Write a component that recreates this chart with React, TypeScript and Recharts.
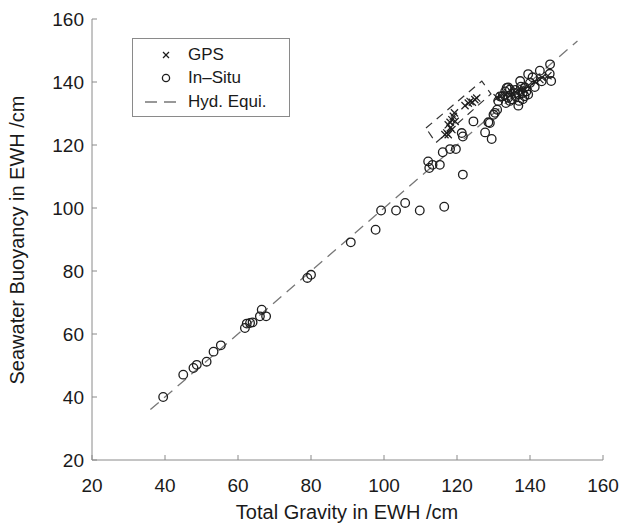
import React from 'react';
import { ScatterChart, Scatter, XAxis, YAxis } from 'recharts';

const FONT = '"Liberation Sans", Arial, Helvetica, sans-serif';
const AXIS_COLOR = '#8a8a8a';
const TEXT_COLOR = '#1a1a1a';

const xTicks = [20, 40, 60, 80, 100, 120, 140, 160];
const yTicks = [20, 40, 60, 80, 100, 120, 140, 160];

const insituX = [
  39.5, 45, 47.8, 48.7, 51.4, 53.3, 55.3, 61.9, 62.4, 63.3, 64.0, 66.5, 66.0, 67.7,
  79, 80, 90.9, 97.7, 99.2, 103.3, 105.8, 109.8, 116.5, 121.6, 112.1, 112.4, 113.3,
  115.3, 116.1, 118.1, 119.7, 121.3, 121.6, 124.5, 127.7, 128.6, 129.5, 130.4, 131,
  131.8, 133.6, 133.4, 136.8, 137.3, 139.5, 140, 141.3, 142.7, 145.5, 145.4, 145.8,
  134.5, 135.9, 140.7, 143.2, 138.6, 134, 133.2, 130, 129, 131.3, 132.5, 134, 135,
  136, 137, 138, 138.5, 139, 137.5, 136, 134.5, 138, 137, 139.5,
];
const insituY = [
  40, 47.1, 49.2, 50.2, 51.2, 54.4, 56.4, 61.9, 63.3, 63.5, 63.7, 67.7, 65.6, 65.6,
  77.8, 78.8, 89.1, 93.1, 99.2, 99.2, 101.6, 99.2, 100.4, 110.6, 114.8, 112.7, 113.7,
  113.7, 117.7, 118.7, 118.7, 123.8, 122.7, 127.5, 124, 127.2, 121.9, 130.2, 131.2,
  135.4, 138.1, 133.3, 132.5, 140.3, 142.5, 139.7, 138.4, 143.6, 145.6, 142.6, 140.3,
  137.6, 136.5, 141.5, 140.2, 138.3, 138.3, 137, 129.6, 127, 134, 135.5, 135, 134.5,
  135.5, 136, 136.5, 135.5, 137, 138.5, 137.5, 134, 134.5, 134, 136,
];

const gpsX = [
  122.2, 123.1, 123.6, 124.9, 125.4, 124.2,
  119.3, 119, 118.6, 118.1, 119.5, 117.6, 117.2, 117.6, 116.7, 118.6, 118.2,
  131, 133.2, 135.1, 137.3, 139.5, 141.4, 143.3, 144.9, 142.7, 136, 138.5, 132,
];
const gpsY = [
  132.5, 133.3, 133.8, 134.4, 134.9, 133.6,
  130.2, 129.1, 128, 127.2, 127.5, 126.4, 123.8, 123.3, 123.3, 124.9, 125.5,
  135, 136, 136.6, 137.6, 138.8, 140.1, 141.4, 142, 140.8, 136.8, 137.5, 135.5,
];

const equiX = [36, 153];
const equiY = [36, 153];

const boxX = [111.5, 126.8, 129.3, 114.2, 111.5];
const boxY = [125.4, 140.3, 136.2, 120.7, 125.4];

const legendLabels = ['GPS', 'In–Situ', 'Hyd. Equi.'];

const zip = (xs: number[], ys: number[]) => xs.map((x, i) => ({ x, y: ys[i] }));

const insituData = zip(insituX, insituY);
const gpsData = zip(gpsX, gpsY);
const equiData = zip(equiX, equiY);
const boxData = zip(boxX, boxY);

const Circle = (p: any) => (
  <circle cx={p.cx} cy={p.cy} r={4.3} fill="none" stroke="#1e1e1e" strokeWidth={1.3} />
);
const Cross = (p: any) => {
  const s = 3.6;
  return (
    <g stroke="#1e1e1e" strokeWidth={1.2}>
      <line x1={p.cx - s} y1={p.cy - s} x2={p.cx + s} y2={p.cy + s} />
      <line x1={p.cx - s} y1={p.cy + s} x2={p.cx + s} y2={p.cy - s} />
    </g>
  );
};
const Nothing = () => <g />;

const XTick = (p: any) => (
  <g>
    <line x1={p.x} x2={p.x} y1={p.y} y2={p.y - 5} stroke={AXIS_COLOR} />
    <text x={p.x} y={p.y + 32} textAnchor="middle" fontSize={19} fill={TEXT_COLOR} fontFamily={FONT}>
      {p.payload.value}
    </text>
  </g>
);
const YTick = (p: any) => (
  <g>
    <line x1={p.x} x2={p.x + 5} y1={p.y} y2={p.y} stroke={AXIS_COLOR} />
    <text x={p.x - 8} y={p.y + 7} textAnchor="end" fontSize={19} fill={TEXT_COLOR} fontFamily={FONT}>
      {p.payload.value}
    </text>
  </g>
);

const LegendBox = () => {
  const row = (top: number, icon: React.ReactNode, label: string) => (
    <div style={{ position: 'absolute', left: 0, top, height: 22, width: '100%' }}>
      <svg width={50} height={22} style={{ position: 'absolute', left: 0, top: 0 }}>
        {icon}
      </svg>
      <span style={{ position: 'absolute', left: 55, top: 1, lineHeight: '20px', fontSize: 17, whiteSpace: 'nowrap' }}>
        {label}
      </span>
    </div>
  );
  return (
    <div
      style={{
        position: 'absolute',
        left: 132,
        top: 38,
        width: 158,
        height: 79,
        border: `1px solid ${AXIS_COLOR}`,
        background: '#fff',
        boxSizing: 'border-box',
        fontFamily: FONT,
        color: TEXT_COLOR,
      }}
    >
      {row(5, (
        <g stroke="#1e1e1e" strokeWidth={1.2}>
          <line x1={30} y1={8} x2={36} y2={14} />
          <line x1={30} y1={14} x2={36} y2={8} />
        </g>
      ), legendLabels[0])}
      {row(28, <circle cx={33} cy={11} r={3.6} fill="none" stroke="#1e1e1e" strokeWidth={1.3} />, legendLabels[1])}
      {row(52, <line x1={12} x2={47} y1={11} y2={11} stroke="#777" strokeWidth={1.3} strokeDasharray="12 7" />, legendLabels[2])}
    </div>
  );
};

export default function App() {
  return (
    <div style={{ position: 'absolute', left: 0, top: 0, width: 620, height: 524, background: '#fff' }}>
      <ScatterChart width={620} height={524} margin={{ top: 19, right: 17, bottom: 0, left: 0 }}>
        <XAxis
          type="number"
          dataKey="x"
          domain={[20, 160]}
          ticks={xTicks}
          allowDataOverflow
          height={64}
          tickSize={0}
          tickMargin={0}
          tick={XTick}
          axisLine={{ stroke: AXIS_COLOR }}
          label={{
            content: () => (
              <text x={347} y={519} textAnchor="middle" fontSize={20} fill={TEXT_COLOR} fontFamily={FONT}>
                Total Gravity in EWH /cm
              </text>
            ),
          }}
        />
        <YAxis
          type="number"
          dataKey="y"
          domain={[20, 160]}
          ticks={yTicks}
          allowDataOverflow
          width={92}
          tickSize={0}
          tickMargin={0}
          tick={YTick}
          axisLine={{ stroke: AXIS_COLOR }}
          label={{
            content: () => (
              <text x={24} y={240} transform="rotate(-90,24,240)" textAnchor="middle" fontSize={20} fill={TEXT_COLOR} fontFamily={FONT}>
                Seawater Buoyancy in EWH /cm
              </text>
            ),
          }}
        />
        <Scatter
          name="Hyd. Equi."
          data={equiData}
          line={{ stroke: '#777', strokeWidth: 1.3, strokeDasharray: '11 7' }}
          shape={Nothing}
          isAnimationActive={false}
        />
        <Scatter
          name="box"
          data={boxData}
          line={{ stroke: '#333', strokeWidth: 1.2, strokeDasharray: '8 6' }}
          shape={Nothing}
          isAnimationActive={false}
        />
        <Scatter name="In–Situ" data={insituData} shape={Circle} isAnimationActive={false} />
        <Scatter name="GPS" data={gpsData} shape={Cross} isAnimationActive={false} />
      </ScatterChart>
      <LegendBox />
    </div>
  );
}
